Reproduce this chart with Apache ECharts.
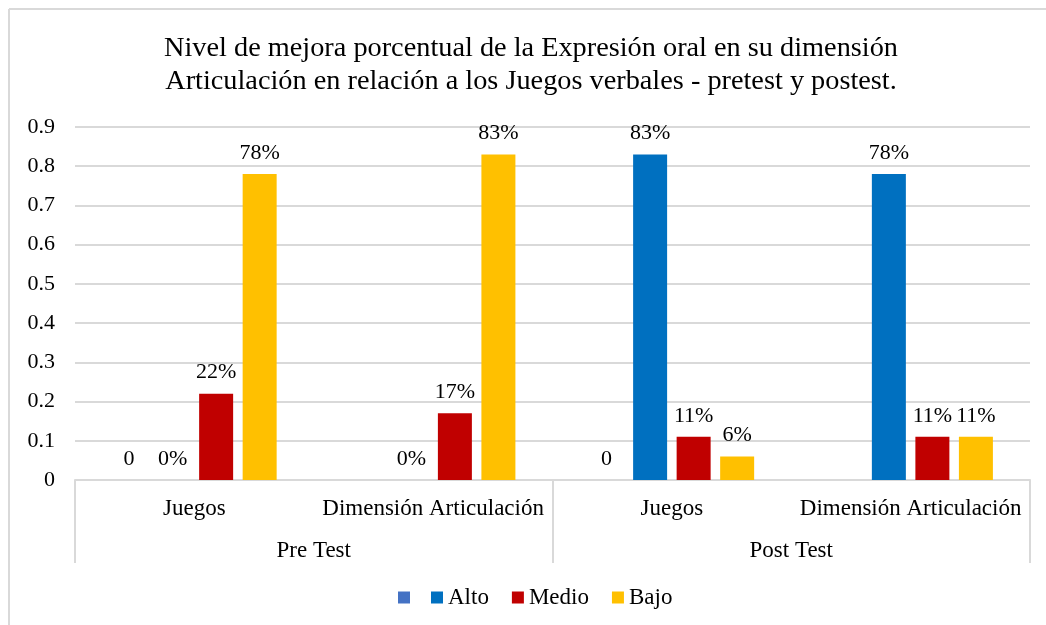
<!DOCTYPE html>
<html>
<head>
<meta charset="utf-8">
<script src="https://cdn.jsdelivr.net/npm/echarts@6/dist/echarts.min.js"></script>
<style>html,body{margin:0;padding:0;background:#fff;}#c{width:1046px;height:625px;}</style>
</head>
<body>
<div id="c"></div>
<script>
var titleText = 'Nivel de mejora porcentual de la Expresión oral en su dimensión\nArticulación en relación a los Juegos verbales - pretest y postest.';
var innerCategories = ['Juegos', 'Dimensión Articulación', 'Juegos', 'Dimensión Articulación'];
var outerCategories = ['Pre Test', 'Post Test'];
var seriesNames = ['\u200b', 'Alto', 'Medio', 'Bajo'];
var blankValues = [0, null, 0, null];
var altoValues = [0, 0, 0.83, 0.78];
var medioValues = [0.22, 0.17, 0.11, 0.11];
var bajoValues = [0.78, 0.83, 0.06, 0.11];
var yTicks = [0, 0.1, 0.2, 0.3, 0.4, 0.5, 0.6, 0.7, 0.8, 0.9];

var FONT = '"Liberation Serif", "Times New Roman", serif';
var FS = 22;
var FS_CAT = 23;
var colors = ['#4472C4', '#0070C0', '#C00000', '#FFC000'];
var gridColor = '#d9d9d9';

function pctLabel(p) { return Math.round(p.value * 100) + '%'; }
function rawLabel(p) { return String(p.value); }

function mkSeries(name, data, color, fmt) {
  return {
    name: name,
    type: 'bar',
    data: data,
    barWidth: 34,
    barGap: '28%',
    itemStyle: { color: color },
    label: {
      show: true,
      position: 'top',
      distance: 10,
      fontFamily: FONT,
      fontSize: FS,
      color: '#000',
      formatter: fmt
    }
  };
}

function mkLegend(data, left) {
  return {
    bottom: 11,
    left: left,
    itemWidth: 12,
    itemHeight: 12,
    itemGap: 23,
    icon: 'rect',
    data: data,
    textStyle: { fontFamily: FONT, fontSize: FS_CAT, color: '#000' }
  };
}

var chart = echarts.init(document.getElementById('c'), null, { renderer: 'canvas' });
chart.setOption({
  animation: false,
  backgroundColor: '#fff',
  color: colors,
  title: {
    text: titleText,
    left: 526,
    textAlign: 'center',
    top: 27,
    textStyle: { fontFamily: FONT, fontSize: 28.3, fontWeight: 'normal', color: '#000', lineHeight: 33 }
  },
  legend: [
    mkLegend(seriesNames.slice(0, 1), 393),
    mkLegend(seriesNames.slice(1), 426)
  ],
  grid: { left: 75, right: 16, top: 127, bottom: 145, containLabel: false },
  xAxis: [
    {
      type: 'category',
      data: innerCategories,
      position: 'bottom',
      axisLine: { show: true, lineStyle: { color: gridColor, width: 2 } },
      axisTick: { show: false },
      axisLabel: { fontFamily: FONT, fontSize: FS_CAT, color: '#000', margin: 17, interval: 0 },
      splitLine: { show: false }
    },
    {
      type: 'category',
      data: outerCategories,
      position: 'bottom',
      axisLine: { show: false },
      axisTick: { show: true, length: 83, lineStyle: { color: gridColor, width: 2 } },
      axisLabel: { fontFamily: FONT, fontSize: FS_CAT, color: '#000', margin: 59, interval: 0 },
      splitLine: { show: false }
    }
  ],
  yAxis: {
    type: 'value',
    min: yTicks[0],
    max: yTicks[yTicks.length - 1],
    interval: 0.1,
    axisLine: { show: false },
    axisTick: { show: false },
    axisLabel: {
      fontFamily: FONT, fontSize: FS, color: '#000', margin: 20,
      formatter: function (v) { return String(+v.toFixed(1)); }
    },
    splitLine: { show: true, lineStyle: { color: gridColor, width: 2 } }
  },
  graphic: [
    { type: 'line', shape: { x1: 9, y1: 9, x2: 1046, y2: 9 }, style: { stroke: gridColor, lineWidth: 2 }, z: 100 },
    { type: 'line', shape: { x1: 9, y1: 9, x2: 9, y2: 625 }, style: { stroke: gridColor, lineWidth: 2 }, z: 100 }
  ],
  series: [
    mkSeries(seriesNames[0], blankValues, colors[0], rawLabel),
    mkSeries(seriesNames[1], altoValues, colors[1], pctLabel),
    mkSeries(seriesNames[2], medioValues, colors[2], pctLabel),
    mkSeries(seriesNames[3], bajoValues, colors[3], pctLabel)
  ]
});
</script>
</body>
</html>
